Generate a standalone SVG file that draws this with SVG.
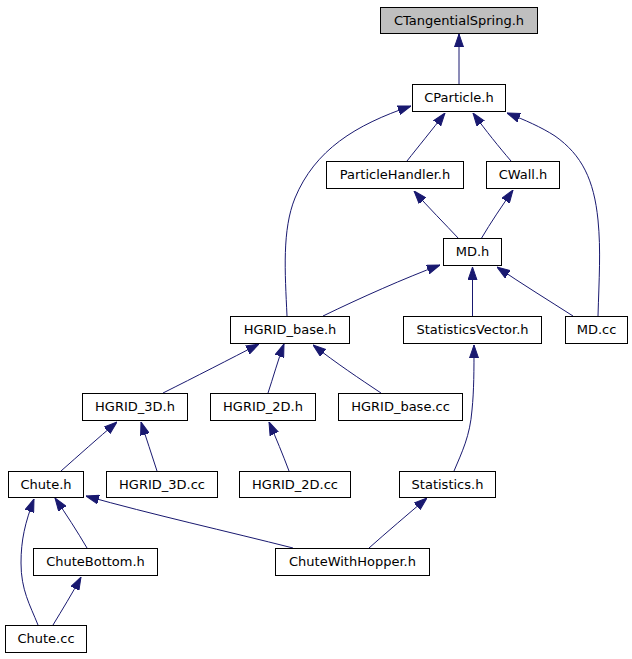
<svg xmlns="http://www.w3.org/2000/svg" width="632" height="659" viewBox="0 0 632 659">
<style>
.n rect{fill:#ffffff;stroke:#000000;stroke-width:1}
.n text{font-family:"DejaVu Sans","Liberation Sans",sans-serif;font-size:13px;fill:#000000;text-anchor:middle}
.e path{fill:none;stroke:#191970;stroke-width:1;marker-end:url(#arr)}
</style>
<defs>
<marker id="arr" markerWidth="13" markerHeight="10" refX="13" refY="5" orient="auto" markerUnits="userSpaceOnUse">
<path d="M0,0.5 L13,5 L0,9.5 z" fill="#191970" stroke="#191970" stroke-width="1"/>
</marker>
</defs>
<rect x="0" y="0" width="632" height="659" fill="#ffffff"/>
<g id="edges" class="e">
<path d="M459,84 L459,34"/>
<path d="M407,161 C418,147 432,130 445,113"/>
<path d="M511,161 C499,147 486,131 473,113"/>
<path d="M598,316 C599,280 601,250 598,220 C594,180 582,155 555,136 C541,127 525,120 507,113"/>
<path d="M287,316 C285,272 282,230 295,198 C315,150 355,125 411,106"/>
<path d="M459,239 C445,224 428,207 414,191"/>
<path d="M481,239 C491,222 502,206 513,190"/>
<path d="M323,316 C360,298 405,278 440,265"/>
<path d="M472.5,316 L472.5,267"/>
<path d="M573,316 C548,300 522,284 497,267"/>
<path d="M163,393 C195,377 230,359 259,344"/>
<path d="M268,393 C273,378 278,360 284,344"/>
<path d="M381,393 C360,379 336,363 313,345"/>
<path d="M157,471 C152,455 146,438 141,422"/>
<path d="M61,471 C78,456 98,438 117,422"/>
<path d="M289,471 C283,455 276,438 269,422"/>
<path d="M454,471 C462,452 470,436 472,410 C474,390 474,370 474,345"/>
<path d="M293,548 C230,532 150,514 86,496"/>
<path d="M369,548 C387,532 407,515 427,498"/>
<path d="M87,548 C77,531 66,514 55,498"/>
<path d="M38,625 C30,605 21,590 21,563 C21,540 25,523 34,499"/>
<path d="M53,625 C62,610 72,594 81,577"/>
</g>
<g id="CTangentialSpring_h" class="n"><rect x="380.5" y="7.5" width="157" height="26" style="fill:#bfbfbf"/><text x="459" y="24.5">CTangentialSpring.h</text></g>
<g id="CParticle_h" class="n"><rect x="412.5" y="84.5" width="93" height="27"/><text x="459" y="102">CParticle.h</text></g>
<g id="ParticleHandler_h" class="n"><rect x="326.5" y="161.5" width="137" height="27"/><text x="395" y="179">ParticleHandler.h</text></g>
<g id="CWall_h" class="n"><rect x="486.5" y="161.5" width="73" height="27"/><text x="523" y="179">CWall.h</text></g>
<g id="MD_h" class="n"><rect x="443.5" y="238.5" width="58" height="27"/><text x="472.5" y="256">MD.h</text></g>
<g id="HGRID_base_h" class="n"><rect x="230.5" y="316.5" width="119" height="27"/><text x="290" y="334">HGRID_base.h</text></g>
<g id="StatisticsVector_h" class="n"><rect x="403.5" y="316.5" width="138" height="27"/><text x="472.5" y="334">StatisticsVector.h</text></g>
<g id="MD_cc" class="n"><rect x="565.5" y="316.5" width="62" height="27"/><text x="596.5" y="334">MD.cc</text></g>
<g id="HGRID_3D_h" class="n"><rect x="82.5" y="393.5" width="105" height="27"/><text x="135" y="411">HGRID_3D.h</text></g>
<g id="HGRID_2D_h" class="n"><rect x="210.5" y="393.5" width="105" height="27"/><text x="263" y="411">HGRID_2D.h</text></g>
<g id="HGRID_base_cc" class="n"><rect x="338.5" y="393.5" width="124" height="27"/><text x="400.5" y="411">HGRID_base.cc</text></g>
<g id="Chute_h" class="n"><rect x="8.5" y="471.5" width="75" height="26"/><text x="46" y="488.5">Chute.h</text></g>
<g id="HGRID_3D_cc" class="n"><rect x="106.5" y="471.5" width="111" height="26"/><text x="162" y="488.5">HGRID_3D.cc</text></g>
<g id="HGRID_2D_cc" class="n"><rect x="239.5" y="471.5" width="111" height="26"/><text x="295" y="488.5">HGRID_2D.cc</text></g>
<g id="Statistics_h" class="n"><rect x="399.5" y="471.5" width="96" height="26"/><text x="447.5" y="488.5">Statistics.h</text></g>
<g id="ChuteBottom_h" class="n"><rect x="33.5" y="548.5" width="124" height="27"/><text x="95.5" y="566">ChuteBottom.h</text></g>
<g id="ChuteWithHopper_h" class="n"><rect x="275.5" y="548.5" width="154" height="27"/><text x="352.5" y="566">ChuteWithHopper.h</text></g>
<g id="Chute_cc" class="n"><rect x="5.5" y="625.5" width="81" height="27"/><text x="46" y="643">Chute.cc</text></g>
</svg>
